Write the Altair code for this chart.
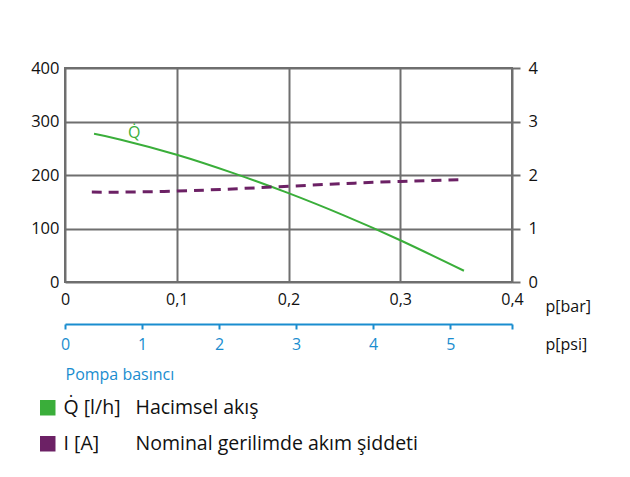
import altair as alt
import pandas as pd

# --- data ---
bar_q = [0.026, 0.05, 0.10, 0.15, 0.20, 0.25, 0.30, 0.357]
flow_q = [277, 266, 238, 204, 166, 124, 78, 21]

bar_i = [0.024, 0.05, 0.10, 0.15, 0.20, 0.25, 0.30, 0.352]
current_i = [1.68, 1.68, 1.70, 1.74, 1.79, 1.84, 1.88, 1.91]

series_names = ["Q\u0307 [l/h]", "I [A]"]
series_desc = ["Hacimsel akış", "Nominal gerilimde akım şiddeti"]
series_colors = ["#3aae3a", "#6c2165"]

bar_max = 0.4
psi_per_bar = 14.5038
psi_ticks = [0, 1, 2, 3, 4, 5]

label_bar = [0.062]
label_q = [278]
label_text = ["Q\u0307"]

FONT = "Open Sans"
GRID = "#6f6f6f"
BLUE = "#1a8dcf"

df_q = pd.DataFrame({"bar": bar_q, "val": flow_q})
df_i = pd.DataFrame({"bar": bar_i, "val": current_i})
df_lab = pd.DataFrame({"bar": label_bar, "val": label_q, "t": label_text})
df_psi = pd.DataFrame({"psi": [bar_max * psi_per_bar]})
df_legend = pd.DataFrame({"series": series_names, "desc": series_desc})

bar_label_expr = "datum.value == 0 ? '0' : replace(format(datum.value, '.1f'), '.', ',')"

color_legend = alt.Legend(
    orient="none", legendX=-27, legendY=330, title=None, padding=0,
    symbolType="square", symbolSize=240, symbolStrokeWidth=0, symbolOpacity=1,
    labelFont=FONT, labelFontSize=19.5, labelColor="#111", labelOffset=6,
    labelLimit=300, rowPadding=15, direction="vertical",
)
dash_legend = alt.Legend(
    orient="none", legendX=51, legendY=330, title=None, padding=0,
    symbolSize=0, symbolOpacity=0, symbolStrokeWidth=0, symbolType="square",
    labelFont=FONT, labelFontSize=19.5, labelColor="#111", labelOffset=0,
    labelLimit=500, rowPadding=15, direction="vertical",
)

x_bar = alt.X(
    "bar:Q",
    scale=alt.Scale(domain=[0, bar_max], nice=False),
    axis=alt.Axis(
        orient="bottom", values=[0, 0.1, 0.2, 0.3, 0.4], labelExpr=bar_label_expr,
        grid=True, gridColor=GRID, gridWidth=2, ticks=False, domain=False,
        labelFont=FONT, labelFontSize=16, labelColor="#111", labelPadding=9,
        labelFlush=False,
        title="p[bar]", titleFont=FONT, titleFontSize=16, titleFontWeight="normal",
        titleColor="#111", titleX=480, titleY=24, titleAlign="left",
        titleBaseline="middle", titleAnchor="start",
    ),
)
x_bar_hidden = alt.X("bar:Q", scale=alt.Scale(domain=[0, bar_max], nice=False), axis=None)

q_line = alt.Chart(df_q).mark_line(
    strokeWidth=2, interpolate="natural", color=series_colors[0]
).encode(
    x=x_bar,
    y=alt.Y(
        "val:Q",
        scale=alt.Scale(domain=[0, 400], nice=False),
        axis=alt.Axis(
            orient="left", values=[0, 100, 200, 300, 400], grid=True,
            gridColor=GRID, gridWidth=2, ticks=False, domain=False,
            labelFont=FONT, labelFontSize=16.5, labelColor="#111", labelPadding=6,
            labelFlush=False, title=None,
        ),
    ),
)

i_line = alt.Chart(df_i).mark_line(
    strokeWidth=3, interpolate="natural", color=series_colors[1], strokeDash=[10, 7]
).encode(
    x=x_bar_hidden,
    y=alt.Y(
        "val:Q",
        scale=alt.Scale(domain=[0, 4], nice=False),
        axis=alt.Axis(
            orient="right", values=[0, 1, 2, 3, 4], grid=False,
            ticks=True, tickSize=8, tickWidth=2, tickColor=GRID, domain=False,
            labelFont=FONT, labelFontSize=16.5, labelColor="#111", labelPadding=8,
            labelFlush=False, title=None,
        ),
    ),
)

q_label = alt.Chart(df_lab).mark_text(
    font=FONT, fontSize=16, color=series_colors[0], baseline="middle", align="center"
).encode(
    x=x_bar_hidden,
    y=alt.Y("val:Q", scale=alt.Scale(domain=[0, 400], nice=False), axis=None),
    text="t:N",
)

psi_axis_layer = alt.Chart(df_psi).mark_rule(opacity=0).encode(
    x=alt.X(
        "psi:Q",
        scale=alt.Scale(domain=[0, bar_max * psi_per_bar], nice=False),
        axis=alt.Axis(
            orient="bottom", offset=42, values=psi_ticks + [bar_max * psi_per_bar],
            labelExpr="datum.value > 5.5 ? '' : format(datum.value, 'd')",
            grid=False, domain=True, domainColor=BLUE, domainWidth=2,
            ticks=True, tickColor=BLUE, tickWidth=2, tickSize=5,
            labelFont=FONT, labelFontSize=16, labelColor=BLUE, labelPadding=7,
            labelFlush=False,
            title="p[psi]", titleFont=FONT, titleFontSize=16, titleFontWeight="normal",
            titleColor="#111", titleX=480, titleY=20, titleAlign="left",
            titleBaseline="middle", titleAnchor="start",
        ),
    ),
)

pompa_layer = alt.Chart(df_psi).mark_rule(opacity=0).encode(
    x=alt.X(
        "psi:Q",
        scale=alt.Scale(domain=[0, bar_max * psi_per_bar], nice=False),
        axis=alt.Axis(
            orient="bottom", offset=42, labels=False, ticks=False, domain=False,
            grid=False,
            title="Pompa basıncı", titleFont=FONT, titleFontSize=16,
            titleFontWeight="normal", titleColor=BLUE, titleX=0, titleY=50,
            titleAlign="left", titleBaseline="middle", titleAnchor="start",
        ),
    ),
)

legend_layer = alt.Chart(df_legend).mark_point(
    opacity=0, size=1, filled=True, shape="square"
).encode(
    color=alt.Color(
        "series:N", scale=alt.Scale(domain=series_names, range=series_colors),
        legend=color_legend,
    ),
    shape=alt.Shape(
        "desc:N", scale=alt.Scale(domain=series_desc, range=["square", "square"]),
        legend=dash_legend,
    ),
)

chart = alt.layer(
    q_line, i_line, q_label, psi_axis_layer, pompa_layer, legend_layer
).resolve_scale(
    x="independent", y="independent"
).properties(
    width=447,
    height=214,
    autosize=alt.AutoSizeParams(type="none"),
    padding={"left": 57, "top": 60, "right": 105, "bottom": 180},
    background="white",
).configure_view(stroke=GRID, strokeWidth=2)

chart.save("out.html", embed_options={"renderer": "svg", "actions": False})
